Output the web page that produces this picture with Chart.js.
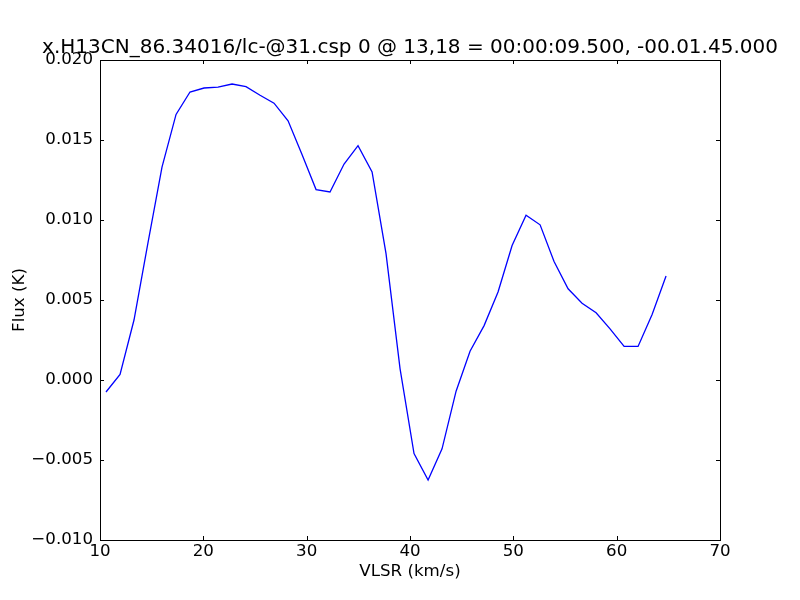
<!DOCTYPE html>
<html>
<head>
<meta charset="utf-8">
<script src="https://cdn.jsdelivr.net/npm/chart.js@4/dist/chart.umd.min.js"></script>
<style>
  body { margin: 0; background: #fff; }
</style>
</head>
<body>
<canvas id="specChart" width="800" height="600"></canvas>
<script>
const velocities = [10.58, 11.94, 13.29, 14.65, 16.00, 17.36, 18.71, 20.07, 21.42, 22.78,
  24.13, 25.49, 26.84, 28.20, 29.55, 30.91, 32.26, 33.62, 34.97, 36.33,
  37.68, 39.04, 40.39, 41.75, 43.10, 44.46, 45.81, 47.17, 48.52, 49.88,
  51.23, 52.59, 53.94, 55.30, 56.65, 58.01, 59.36, 60.72, 62.07, 63.43, 64.78];
const flux = [-0.00075, 0.00035, 0.00375, 0.0086, 0.0133, 0.0166, 0.0180, 0.01825, 0.0183, 0.0185,
  0.01833, 0.0178, 0.0173, 0.0162, 0.0141, 0.0119, 0.01175, 0.0135, 0.01465, 0.0130,
  0.0079, 0.0007, -0.0046, -0.00625, -0.0043, -0.0007, 0.0018, 0.0034, 0.0055, 0.0084,
  0.0103, 0.0097, 0.0074, 0.0057, 0.0048, 0.0042, 0.0032, 0.0021, 0.0021, 0.0041, 0.0065];
const titleText = 'x.H13CN_86.34016/lc-@31.csp 0 @ 13,18 = 00:00:09.500, -00.01.45.000';

const fontFamily = '"DejaVu Sans", sans-serif';

// matplotlib style frame + inward ticks on all four sides, title centred on the axes
const frameTicks = {
  id: 'frameTicks',
  afterDraw(chart) {
    const { ctx, chartArea: a, scales } = chart;
    ctx.save();
    ctx.strokeStyle = '#000';
    ctx.lineWidth = 1;
    ctx.beginPath();
    scales.x.ticks.forEach(t => {
      const px = Math.round(scales.x.getPixelForValue(t.value)) + 0.5;
      ctx.moveTo(px, a.bottom); ctx.lineTo(px, a.bottom - 4);
      ctx.moveTo(px, a.top); ctx.lineTo(px, a.top + 4);
    });
    scales.y.ticks.forEach(t => {
      const py = Math.round(scales.y.getPixelForValue(t.value)) + 0.5;
      ctx.moveTo(a.left, py); ctx.lineTo(a.left + 4, py);
      ctx.moveTo(a.right, py); ctx.lineTo(a.right - 4, py);
    });
    ctx.stroke();
    ctx.strokeRect(a.left + 0.5, a.top + 0.5, a.right - a.left, a.bottom - a.top);

    ctx.fillStyle = '#000';
    ctx.font = '20px ' + fontFamily;
    ctx.textAlign = 'center';
    ctx.textBaseline = 'alphabetic';
    ctx.fillText(titleText, (a.left + a.right) / 2, a.top - 7);
    ctx.restore();
  }
};

const ctx = document.getElementById('specChart').getContext('2d');
new Chart(ctx, {
  type: 'line',
  data: {
    datasets: [{
      data: velocities.map((v, i) => ({ x: v, y: flux[i] })),
      borderColor: '#0000ff',
      borderWidth: 1.3,
      pointRadius: 0,
      tension: 0,
      fill: false
    }]
  },
  options: {
    responsive: false,
    animation: false,
    layout: { padding: { left: 0, right: 80, top: 60, bottom: 0 } },
    plugins: {
      legend: { display: false },
      tooltip: { enabled: false },
      title: { display: false }
    },
    scales: {
      x: {
        type: 'linear',
        min: 10, max: 70,
        grid: { display: false, drawTicks: false },
        border: { display: false },
        ticks: {
          stepSize: 10, padding: 2, color: '#000',
          font: { family: fontFamily, size: 16.67 }
        },
        title: {
          display: true, text: 'VLSR (km/s)', color: '#000',
          font: { family: fontFamily, size: 16.67 },
          padding: { top: 0, bottom: 18 }
        },
        afterFit(axis) { axis.height = 60; }
      },
      y: {
        min: -0.01, max: 0.02,
        grid: { display: false, drawTicks: false },
        border: { display: false },
        ticks: {
          stepSize: 0.005, padding: 7, color: '#000',
          font: { family: fontFamily, size: 16.67 },
          callback: v => v.toFixed(3).replace('-', '\u2212')
        },
        title: {
          display: true, text: 'Flux (K)', color: '#000',
          font: { family: fontFamily, size: 16.67 },
          padding: { top: 10, bottom: 0 }
        },
        afterFit(axis) { axis.width = 100; }
      }
    }
  },
  plugins: [frameTicks]
});
</script>
</body>
</html>
